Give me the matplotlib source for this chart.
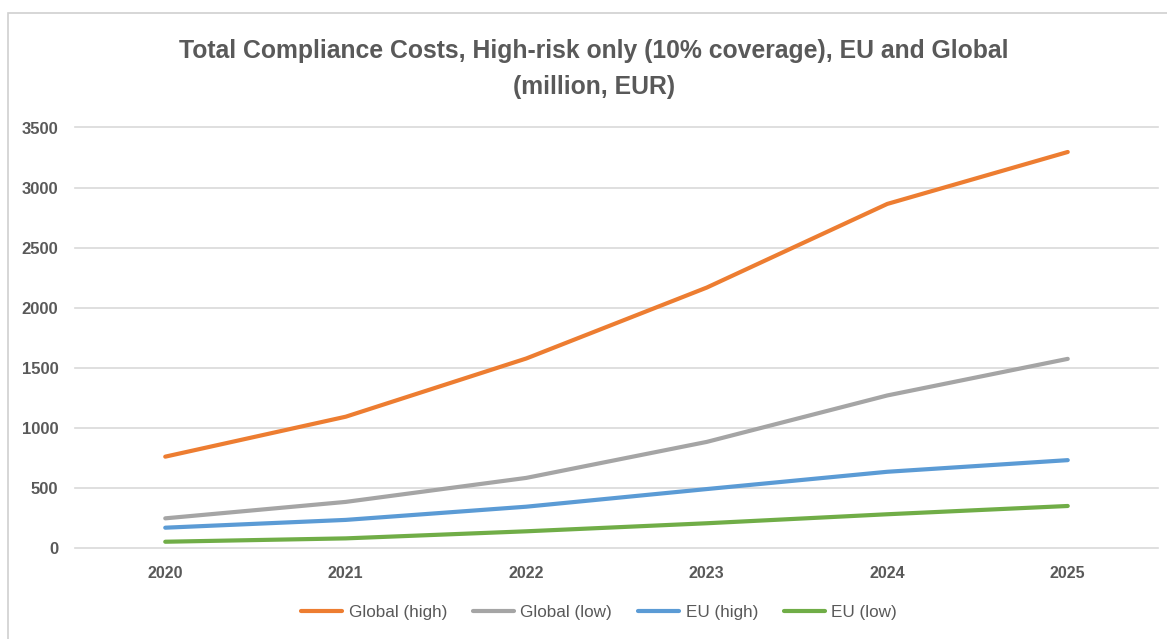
import matplotlib.pyplot as plt
from matplotlib.patches import Rectangle

years = ["2020", "2021", "2022", "2023", "2024", "2025"]
global_high = [757, 1090, 1575, 2166, 2863, 3296]
global_low = [243, 380, 580, 880, 1267, 1572]
eu_high = [165, 230, 340, 487, 631, 728]
eu_low = [48, 76, 135, 202, 277, 346]

plt.rcParams['font.family'] = ['Liberation Sans', 'DejaVu Sans']
text_col = "#595959"

W, H = 1167, 639
fig = plt.figure(figsize=(W / 100, H / 100), dpi=100)
ax = fig.add_axes([75 / W, 1 - 547.5 / H, (1158 - 75) / W, (547.5 - 127.5) / H])

x = range(len(years))
series = [
    (global_high, "Global (high)", "#ED7D31"),
    (global_low, "Global (low)", "#A5A5A5"),
    (eu_high, "EU (high)", "#5B9BD5"),
    (eu_low, "EU (low)", "#70AD47"),
]
for vals, name, col in series:
    ax.plot(x, vals, color=col, lw=3, label=name, solid_capstyle="round")

ax.set_xlim(-0.5, 5.5)
ax.set_ylim(0, 3500)
ax.set_yticks(range(0, 3501, 500))
ax.set_xticks(list(x))
ax.set_xticklabels(years)
ax.grid(axis="y", color="#D9D9D9", lw=1.2)
ax.set_axisbelow(True)
for gl in ax.get_ygridlines():
    gl.set_clip_on(False)
for s in ax.spines.values():
    s.set_visible(False)
ax.tick_params(length=0, colors=text_col)
ax.tick_params(axis="x", pad=13, labelsize=11.5)
ax.tick_params(axis="y", pad=12, labelsize=12)
for lab in ax.get_xticklabels() + ax.get_yticklabels():
    lab.set_fontweight("bold")

fig.text(594 / W, 1 - 69 / H, "Total Compliance Costs, High-risk only (10% coverage), EU and Global\n(million, EUR)",
         ha="center", va="center", fontsize=17.8, fontweight="bold", color=text_col, linespacing=1.65)

fig.legend(loc="center", bbox_to_anchor=(599 / W, 1 - 612 / H), ncol=4, frameon=False,
           fontsize=12.3, labelcolor=text_col, handlelength=2.4, handletextpad=0.4, columnspacing=1.5)

# outer frame of the chart area
fig.add_artist(Rectangle((8 / W, -0.01), 1.02, 1 - 13 / H + 0.01, transform=fig.transFigure,
                         fill=False, edgecolor="#D0D0D0", lw=1.2))

fig.savefig("out.png", dpi=100)
